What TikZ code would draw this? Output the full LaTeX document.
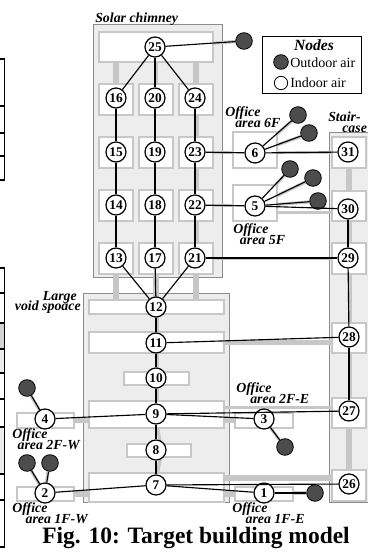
\documentclass[tikz,border=0pt]{standalone}
\usepackage{fontspec}
\setmainfont{Liberation Serif}
\usepackage{xcolor}
\usepackage{tikz}
\usetikzlibrary{backgrounds}
\definecolor{wallgray}{gray}{0.55}
\definecolor{ductgray}{gray}{0.78}
\definecolor{areagray}{gray}{0.93}
\definecolor{outgray}{gray}{0.3}
\newcommand{\placefont}{\fontsize{10.4}{8}\selectfont\setlength{\lineskiplimit}{-6pt}\bfseries\itshape}
\tikzset{
  area/.style n args={2}{draw=wallgray, line width=0.7pt, fill=areagray, inner sep=0pt,
              minimum width=#1*0.75pt, minimum height=#2*0.75pt},
  room/.style n args={2}{draw=ductgray, line width=1.6pt, fill=white, inner sep=0pt,
              minimum width=#1*0.75pt, minimum height=#2*0.75pt},
  indoor/.style={draw, circle, line width=0.9pt, fill=white, inner sep=0pt, minimum size=15pt,
              font=\fontsize{10}{10}\selectfont\bfseries},
  outdoor/.style={draw, circle, line width=0.6pt, fill=outgray, inner sep=0pt, minimum size=12.5pt},
  link/.style={line width=0.85pt},
  duct/.style={draw=ductgray, line width=2.4pt},
  widebar/.style={draw=ductgray, line width=4.4pt},
  place/.style={inner sep=0pt, anchor=west, align=left, font=\placefont},
  cell/.style={line width=0.9pt},
}

\begin{document}
\begin{tikzpicture}[x=0.75pt, y=-0.75pt]
  \useasboundingbox (0,0) rectangle (367,552);
  % Neighbouring table
  \fill[gray!35] (0,323) rectangle (4,349);
  \fill[gray!15] (0,349) rectangle (4,373);
  \fill[gray!15] (0,427) rectangle (4,474);
  \draw[cell] (0,59) -- (4.5,59) -- (4.5,180) -- (0,180);
  \draw[cell] (0,106) -- (4.5,106) (0,133) -- (4.5,133) (0,156) -- (4.5,156);
  \draw[cell] (0,268) -- (4.5,268) -- (4.5,547) -- (0,547);
  \draw[cell] (0,293) -- (4.5,293) (0,323) -- (4.5,323) (0,349) -- (4.5,349)
    (0,373) -- (4.5,373) (0,399) -- (4.5,399) (0,427) -- (4.5,427)
    (0,474) -- (4.5,474) (0,500) -- (4.5,500);
  % Rooms
  \node[room={114}{30}] (r25) at (156,47) {};
  \node[room={34}{31}] (r16) at (116,99.5) {};
  \node[room={34}{31}] (r20) at (156,99.5) {};
  \node[room={34}{31}] (r24) at (196,99.5) {};
  \node[room={34}{31}] (r15) at (116,152.5) {};
  \node[room={34}{31}] (r19) at (156,152.5) {};
  \node[room={34}{31}] (r23) at (196,152.5) {};
  \node[room={34}{31}] (r14) at (116,205.5) {};
  \node[room={34}{31}] (r18) at (156,205.5) {};
  \node[room={34}{31}] (r22) at (196,205.5) {};
  \node[room={34}{31}] (r13) at (116,258.5) {};
  \node[room={34}{31}] (r17) at (156,258.5) {};
  \node[room={34}{31}] (r21) at (196,258.5) {};
  \node[room={135}{14}] (r12) at (156.5,307) {};
  \node[room={135}{21}] (r11) at (156.5,342.5) {};
  \node[room={65}{13}] (r10) at (156.5,378.5) {};
  \node[room={135}{27}] (r9) at (156.5,414.5) {};
  \node[room={64}{13}] (r8) at (159,450.5) {};
  \node[room={135}{29}] (r7) at (156.5,487.5) {};
  \node[room={44}{36}] (r6) at (255,150) {};
  \node[room={44}{36}] (r5) at (255,203) {};
  \node[room={57}{15}] (r4) at (45.5,420.5) {};
  \node[room={57}{14}] (r2) at (45.5,494) {};
  \node[room={58}{15}] (r3) at (264,420.5) {};
  \node[room={58}{14}] (r1) at (264,494) {};
  \node[room={34}{31}] (r31) at (349,152.5) {};
  \node[room={34}{30}] (r30) at (349,206) {};
  \node[room={34}{31}] (r29) at (349,258.5) {};
  \node[room={34}{30}] (r28) at (349,338) {};
  \node[room={34}{30}] (r27) at (349,413) {};
  \node[room={34}{31}] (r26) at (349,485.5) {};
  % Indoor air
  \node[indoor] (n25) at (155,47) {25};
  \node[indoor] (n16) at (116,98) {16};
  \node[indoor] (n20) at (155,98) {20};
  \node[indoor] (n24) at (195,98) {24};
  \node[indoor] (n15) at (116,152) {15};
  \node[indoor] (n19) at (155,152) {19};
  \node[indoor] (n23) at (195,152) {23};
  \node[indoor] (n14) at (116,205) {14};
  \node[indoor] (n18) at (155,205) {18};
  \node[indoor] (n22) at (195,205) {22};
  \node[indoor] (n13) at (116,258) {13};
  \node[indoor] (n17) at (155,258) {17};
  \node[indoor] (n21) at (195,258) {21};
  \node[indoor] (n12) at (156,307) {12};
  \node[indoor] (n11) at (156,343) {11};
  \node[indoor] (n10) at (156,378) {10};
  \node[indoor] (n9) at (156,414) {9};
  \node[indoor] (n8) at (156,450) {8};
  \node[indoor] (n7) at (156,485) {7};
  \node[indoor] (n6) at (255,153) {6};
  \node[indoor] (n5) at (255,206) {5};
  \node[indoor] (n4) at (45,419) {4};
  \node[indoor] (n3) at (264,419) {3};
  \node[indoor] (n2) at (45,493) {2};
  \node[indoor] (n1) at (264,493) {1};
  \node[indoor] (n31) at (348,152) {31};
  \node[indoor] (n30) at (348,209) {30};
  \node[indoor] (n29) at (348,258) {29};
  \node[indoor] (n28) at (349,337) {28};
  \node[indoor] (n27) at (349,411) {27};
  \node[indoor] (n26) at (349,484) {26};
  % Outdoor air
  \node[outdoor] (oa25) at (244,41) {};
  \node[outdoor] (oa6a) at (298,115) {};
  \node[outdoor] (oa6b) at (309,133) {};
  \node[outdoor] (oa5a) at (290,169) {};
  \node[outdoor] (oa5b) at (313,178) {};
  \node[outdoor] (oa5c) at (318,201) {};
  \node[outdoor] (oa4) at (27,388) {};
  \node[outdoor] (oa2a) at (27,463) {};
  \node[outdoor] (oa2b) at (50,463) {};
  \node[outdoor] (oa3) at (285,447) {};
  \node[outdoor] (oa1) at (315,493) {};
  % Links
  \draw[link] (n25) -- (n16); \draw[link] (n25) -- (n20); \draw[link] (n25) -- (n24);
  \draw[link] (n25) -- (oa25);
  \draw[link] (n16) -- (n15); \draw[link] (n15) -- (n14); \draw[link] (n14) -- (n13);
  \draw[link] (n20) -- (n19); \draw[link] (n19) -- (n18); \draw[link] (n18) -- (n17);
  \draw[link] (n24) -- (n23); \draw[link] (n23) -- (n22); \draw[link] (n22) -- (n21);
  \draw[link] (n13) -- (n12); \draw[link] (n17) -- (n12); \draw[link] (n21) -- (n12);
  \draw[link] (n12) -- (n11); \draw[link] (n11) -- (n10); \draw[link] (n10) -- (n9);
  \draw[link] (n9) -- (n8); \draw[link] (n8) -- (n7);
  \draw[link] (n23) -- (n6); \draw[link] (n6) -- (n31);
  \draw[link] (n6) -- (oa6a); \draw[link] (n6) -- (oa6b);
  \draw[link] (n22) -- (n5); \draw[link] (n5) -- (n30);
  \draw[link] (n5) -- (oa5a); \draw[link] (n5) -- (oa5b); \draw[link] (n5) -- (oa5c);
  \draw[link] (n21) -- (n29); \draw[link] (n30) -- (n29);
  \draw[link] (n29) -- (n28); \draw[link] (n28) -- (n27);
  \draw[link] (n11) -- (n28); \draw[link] (n9) -- (n27); \draw[link] (n7) -- (n26);
  \draw[link] (n9) -- (n4); \draw[link] (n9) -- (n3);
  \draw[link] (n4) -- (oa4); \draw[link] (n3) -- (oa3);
  \draw[link] (n7) -- (n2); \draw[link] (n7) -- (n1);
  \draw[link] (n2) -- (oa2a); \draw[link] (n2) -- (oa2b); \draw[link] (n1) -- (oa1);
  % Areas and ducts behind the rooms
  \begin{pgfonlayer}{background}
    \node[area={129}{253}] (chimney) at (157.5,150.5) {};
    \node[area={146}{209}] (void) at (156,397.5) {};
    \node[area={40}{370}] (stair) at (349,317) {};
    \draw[widebar] (r25.south -| r16) -- (r16.north);
    \draw[widebar] (r25.south -| r24) -- (r24.north);
    \draw[duct] (r25.south) -- (r20.north);
    \draw[duct] ([xshift=1pt]r24.south) -- ([xshift=1pt]r23.north);
    \draw[duct] ([xshift=1pt]r23.south) -- ([xshift=1pt]r22.north);
    \draw[duct] ([xshift=1pt]r22.south) -- ([xshift=1pt]r21.north);
    \draw[widebar] (r13.south) -- (r12.north -| r13);
    \draw[widebar] (r17.south) -- (r12.north -| r17);
    \draw[widebar] (r21.south) -- (r12.north -| r21);
    \draw[duct] ([xshift=1pt]r12.south) -- ([xshift=1pt]r11.north);
    \draw[duct] ([xshift=1pt]r11.south) -- ([xshift=1pt]r10.north);
    \draw[duct] ([xshift=1pt]r10.south) -- ([xshift=1pt]r9.north);
    \draw[duct] ([xshift=1pt]r9.south) -- ([xshift=1pt]r8.north);
    \draw[duct] ([xshift=1pt]r8.south) -- ([xshift=1pt]r7.north);
    \draw[widebar] (r31.south) -- (r30.north);
    \draw[duct] ([xshift=1pt]r30.south) -- ([xshift=1pt]r29.north);
    \draw[duct] ([xshift=1pt]r29.south) -- ([xshift=1pt]r28.north);
    \draw[duct] ([xshift=1pt]r28.south) -- ([xshift=1pt]r27.north);
    \draw[widebar] (r27.south) -- (r26.north);
    \draw[duct] (r23.east) -- (r6.west |- r23);
    \draw[duct] (r6.east |- r31) -- (r31.west);
    \draw[duct] (r22.east) -- (r5.west |- r22);
    \draw[duct] ([yshift=-7pt]r5.east) -- ([yshift=-7pt]r5.east -| r30.west);
    \draw[duct] (r21.east) -- (r29.west);
    \draw[widebar] (r11.east) -- (r28.west |- r11);
    \draw[duct] ([yshift=5pt]r9.east) -- ([yshift=5pt]r9.east -| r27.west);
    \draw[widebar] ([yshift=7pt]r7.east) -- ([yshift=7pt]r7.east -| r26.west);
    \draw[widebar] (r4.east) -- (r4.east -| r9.west);
    \draw[widebar] (r3.west) -- (r3.west -| r9.east);
    \draw[widebar] (r2.east) -- (r2.east -| r7.west);
    \draw[widebar] (r1.west) -- (r1.west -| r7.east);
    \draw[duct] (n25) -- ([yshift=-1.5pt]oa25);
    \draw[duct] ([xshift=1.5pt,yshift=-2pt]n6) -- ([xshift=1.5pt,yshift=-2pt]oa6a);
    \draw[duct] ([xshift=1.5pt,yshift=-2pt]n6) -- ([xshift=1.5pt,yshift=-2pt]oa6b);
    \draw[duct] ([xshift=1.5pt,yshift=-2pt]n5) -- ([xshift=1.5pt,yshift=-2pt]oa5a);
    \draw[duct] ([xshift=1.5pt,yshift=-2pt]n5) -- ([xshift=1.5pt,yshift=-2pt]oa5b);
    \draw[duct] ([yshift=-1.5pt]n5) -- ([yshift=-1.5pt]oa5c);
    \draw[duct] ([xshift=-1.5pt,yshift=-1pt]n4) -- ([xshift=-1.5pt,yshift=-1pt]oa4);
    \draw[duct] ([xshift=-1.5pt,yshift=-1pt]n2) -- ([xshift=-1.5pt,yshift=-1pt]oa2a);
    \draw[duct] ([xshift=-1.5pt]n2) -- ([xshift=-1.5pt]oa2b);
    \draw[duct] ([xshift=-1.5pt,yshift=1pt]n3) -- ([xshift=-1.5pt,yshift=1pt]oa3);
    \draw[duct] (n1) -- (oa1);
  \end{pgfonlayer}
  % Legend
  \node[draw, line width=0.65pt, fill=white, minimum width=74.25pt, minimum height=42.75pt, inner sep=0pt] (legend) at (311.5,64.5) {};
  \node[font=\fontsize{11.7}{11.7}\selectfont\bfseries\itshape, inner sep=0pt] (legendtitle) at (314,45) {Nodes};
  \node[outdoor, minimum size=11pt] (keyout) at (281,62) {};
  \node[font=\fontsize{10.5}{10.5}\selectfont, inner sep=0pt, anchor=west] (keyouttext) at (290,62.5) {Outdoor air};
  \node[indoor, line width=0.6pt, minimum size=10pt] (keyin) at (281,83) {};
  \node[font=\fontsize{10.5}{10.5}\selectfont, inner sep=0pt, anchor=west] (keyintext) at (290,83) {Indoor air};
  % Places
  \node[place] (solar) at (95,19) {Solar chimney};
  \node[place] (off6) at (225,117.5) {Office\\\hspace*{7.5pt}area 6F};
  \node[place] (stairs) at (328,122) {Stair-\\\hspace*{10.5pt}case};
  \node[place] (off5) at (233,234.5) {Office\\\hspace*{5pt}area 5F};
  \node[place, align=right, anchor=east] (voidname) at (81,302.5) {Large\hspace*{3pt}\\void spoace};
  \node[place] (off2w) at (12,439.5) {Office\\\hspace*{4pt}area 2F-W};
  \node[place] (off1w) at (12,513) {Office\\\hspace*{10pt}area 1F-W};
  \node[place] (off2e) at (236,393.5) {Office\\\hspace*{10.5pt}area 2F-E};
  \node[place] (off1e) at (232,513) {Office\\\hspace*{10pt}area 1F-E};
  \node[font=\fontsize{17.6}{17.6}\selectfont\bfseries, inner sep=0pt] (caption) at (196,538) {Fig. 10: Target building model};
\end{tikzpicture}
\end{document}
